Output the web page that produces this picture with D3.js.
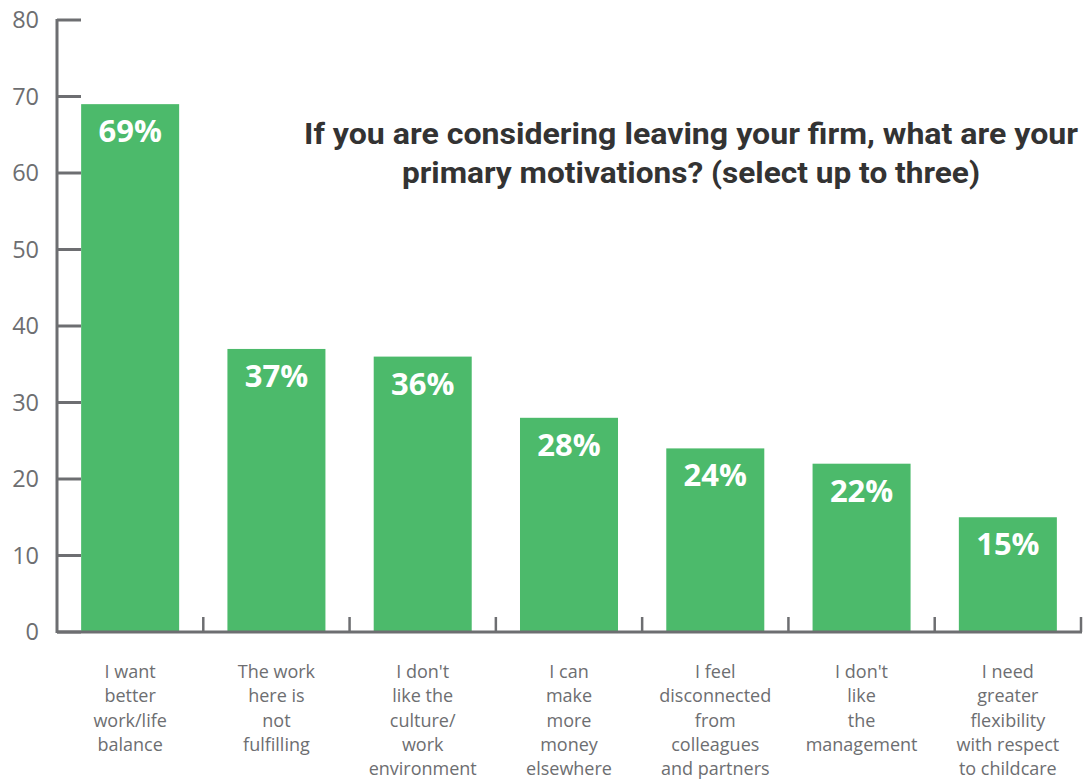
<!DOCTYPE html>
<html>
<head>
<meta charset="utf-8">
<script src="https://cdn.jsdelivr.net/npm/d3@7"></script>
<style>
  html, body { margin: 0; padding: 0; background: #fff; }
  svg { display: block; }
</style>
</head>
<body>
<svg id="chart" width="1083" height="779"></svg>
<script>
// Survey responses: share of respondents choosing each motivation
const categories = [
  ["I want", "better", "work/life", "balance"],
  ["The work", "here is", "not", "fulfilling"],
  ["I don't", "like the", "culture/", "work", "environment"],
  ["I can", "make", "more", "money", "elsewhere"],
  ["I feel", "disconnected", "from", "colleagues", "and partners"],
  ["I don't", "like", "the", "management"],
  ["I need", "greater", "flexibility", "with respect", "to childcare"]
];
const values = [69, 37, 36, 28, 24, 22, 15];
const yTicks = [0, 10, 20, 30, 40, 50, 60, 70, 80];
const titleLines = [
  "If you are considering leaving your firm, what are your",
  "primary motivations? (select up to three)"
];
const titleWidths = [774, 578];

const svg = d3.select("#chart");
const axisColor = "#6d6e71";
const barColor = "#4cba6b";
const font = "'Open Sans', sans-serif";

const x0 = 57, x1 = 1081, yTop = 20, yBottom = 632;

const x = d3.scaleBand()
  .domain(d3.range(values.length))
  .range([x0, x1])
  .paddingInner(0.33)
  .paddingOuter(0.165);

const y = d3.scaleLinear().domain([0, 80]).range([yBottom, yTop]);

// bars
svg.append("g").selectAll("rect")
  .data(values)
  .join("rect")
  .attr("x", (d, i) => x(i))
  .attr("width", x.bandwidth())
  .attr("y", d => y(d))
  .attr("height", d => y(0) - y(d))
  .attr("fill", barColor);

// value labels inside bar tops
svg.append("g").selectAll("text")
  .data(values)
  .join("text")
  .attr("x", (d, i) => x(i) + x.bandwidth() / 2)
  .attr("y", d => y(d) + 38)
  .attr("text-anchor", "middle")
  .attr("fill", "#fff")
  .attr("font-family", font)
  .attr("font-weight", 700)
  .attr("font-size", 31)
  .text(d => d + "%");

// y axis
const yAxis = svg.append("g");
yAxis.append("line")
  .attr("x1", x0).attr("x2", x0)
  .attr("y1", y(80) - 1).attr("y2", yBottom + 1)
  .attr("stroke", axisColor).attr("stroke-width", 3);
yAxis.selectAll("line.tick")
  .data(yTicks)
  .join("line")
  .attr("class", "tick")
  .attr("x1", x0).attr("x2", x0 + 24)
  .attr("y1", d => y(d)).attr("y2", d => y(d))
  .attr("stroke", axisColor).attr("stroke-width", 3);
yAxis.selectAll("text")
  .data(yTicks)
  .join("text")
  .attr("x", 39)
  .attr("y", d => y(d) + 8)
  .attr("text-anchor", "end")
  .attr("fill", axisColor)
  .attr("font-family", font)
  .attr("font-size", 23.5)
  .text(d => d);

// x axis
const xAxis = svg.append("g");
xAxis.append("line")
  .attr("x1", x0).attr("x2", x1 + 1)
  .attr("y1", yBottom).attr("y2", yBottom)
  .attr("stroke", axisColor).attr("stroke-width", 3);
const step = x.step();
xAxis.selectAll("line.tick")
  .data(d3.range(values.length))
  .join("line")
  .attr("class", "tick")
  .attr("x1", i => x(i) + x.bandwidth() + (step - x.bandwidth()) / 2)
  .attr("x2", i => x(i) + x.bandwidth() + (step - x.bandwidth()) / 2)
  .attr("y1", yBottom).attr("y2", yBottom - 15)
  .attr("stroke", axisColor).attr("stroke-width", 2.5);

// category labels
const catG = xAxis.selectAll("text.cat")
  .data(categories)
  .join("text")
  .attr("class", "cat")
  .attr("text-anchor", "middle")
  .attr("fill", axisColor)
  .attr("font-family", font)
  .attr("font-size", 18);
catG.selectAll("tspan")
  .data((d, i) => d.map(t => ({ t, i })))
  .join("tspan")
  .attr("x", d => x(d.i) + x.bandwidth() / 2)
  .attr("y", (d, j) => 678 + j * 24.3)
  .text(d => d.t);

// title
svg.append("g").selectAll("text")
  .data(titleLines)
  .join("text")
  .attr("x", 691)
  .attr("y", (d, i) => 144 + i * 39)
  .attr("text-anchor", "middle")
  .attr("fill", "#333333")
  .attr("font-family", "Roboto, 'Open Sans', sans-serif")
  .attr("font-weight", 700)
  .attr("font-size", 29)
  .attr("textLength", (d, i) => titleWidths[i])
  .attr("lengthAdjust", "spacingAndGlyphs")
  .text(d => d);
</script>
</body>
</html>
